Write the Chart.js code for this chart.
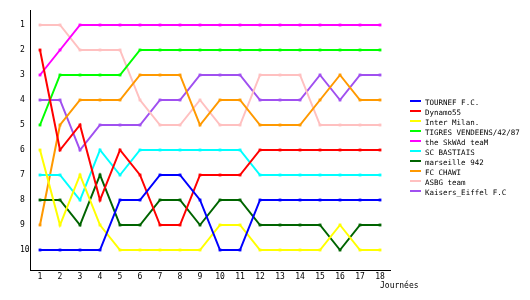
<!DOCTYPE html>
<html>
<head>
<meta charset="utf-8">
<script src="https://cdn.jsdelivr.net/npm/chart.js@4/dist/chart.umd.min.js"></script>
<style>
  body { margin: 0; background: #fff; }
  #wrap { width: 530px; height: 300px; }
</style>
</head>
<body>
<div id="wrap"><canvas id="myChart" width="530" height="300"></canvas></div>
<script>
    // journées 1..18
    var journees = [1, 2, 3, 4, 5, 6, 7, 8, 9, 10, 11, 12, 13, 14, 15, 16, 17, 18];
    var rangs = [1, 2, 3, 4, 5, 6, 7, 8, 9, 10];

    var equipes = ['TOURNEF F.C.', 'Dynamo55', 'Inter Milan.', 'TIGRES VENDEENS/42/87', 'the SkWAd teaM',
                   'SC BASTIAIS', 'marseille 942', 'FC CHAWI', 'ASBG team', 'Kaisers_Eiffel F.C'];
    var couleurs = ['#0000ff', '#ff0000', '#ffff00', '#00ff00', '#ff00ff',
                    '#00ffff', '#006400', '#ff9900', '#ffc0c0', '#a050f0'];

    var tournef   = [10, 10, 10, 10, 8, 8, 7, 7, 8, 10, 10, 8, 8, 8, 8, 8, 8, 8];
    var dynamo    = [2, 6, 5, 8, 6, 7, 9, 9, 7, 7, 7, 6, 6, 6, 6, 6, 6, 6];
    var inter     = [6, 9, 7, 9, 10, 10, 10, 10, 10, 9, 9, 10, 10, 10, 10, 9, 10, 10];
    var tigres    = [5, 3, 3, 3, 3, 2, 2, 2, 2, 2, 2, 2, 2, 2, 2, 2, 2, 2];
    var skwad     = [3, 2, 1, 1, 1, 1, 1, 1, 1, 1, 1, 1, 1, 1, 1, 1, 1, 1];
    var bastiais  = [7, 7, 8, 6, 7, 6, 6, 6, 6, 6, 6, 7, 7, 7, 7, 7, 7, 7];
    var marseille = [8, 8, 9, 7, 9, 9, 8, 8, 9, 8, 8, 9, 9, 9, 9, 10, 9, 9];
    var chawi     = [9, 5, 4, 4, 4, 3, 3, 3, 5, 4, 4, 5, 5, 5, 4, 3, 4, 4];
    var asbg      = [1, 1, 2, 2, 2, 4, 5, 5, 4, 5, 5, 3, 3, 3, 5, 5, 5, 5];
    var kaisers   = [4, 4, 6, 5, 5, 5, 4, 4, 3, 3, 3, 4, 4, 4, 3, 4, 3, 3];

    var series = [tournef, dynamo, inter, tigres, skwad, bastiais, marseille, chawi, asbg, kaisers];
    var police = '"DejaVu Sans Mono", monospace';

    var datasets = series.map(function (s, i) {
        return {
            label: equipes[i],
            data: s.map(function (v, j) { return { x: journees[j], y: v }; }),
            borderColor: couleurs[i],
            backgroundColor: couleurs[i],
            borderWidth: 2,
            pointStyle: 'rect',
            pointRadius: 2,
            pointBorderWidth: 0,
            tension: 0
        };
    });

    // légende et titre d'axe dessinés à la main
    var legendePlugin = {
        id: 'legende',
        afterDraw: function (chart) {
            var c = chart.ctx;
            c.save();
            c.font = '7.5px ' + police;
            c.textBaseline = 'middle';
            c.textAlign = 'left';
            equipes.forEach(function (nom, i) {
                var y = 103 + i * 10;
                c.fillStyle = couleurs[i];
                c.fillRect(410, y - 3, 11, 2);
                c.fillStyle = '#000';
                c.fillText(nom, 425, y);
            });
            c.font = '8px ' + police;
            c.textBaseline = 'alphabetic';
            c.fillText('Journées', 380, 288);
            c.restore();
        }
    };

    var ctx = document.getElementById('myChart').getContext('2d');

    var myChart = new Chart(ctx, {
        type: 'line',
        data: { datasets: datasets },
        plugins: [legendePlugin],
        options: {
            responsive: false,
            animation: false,
            layout: { padding: { left: 20, right: 140, top: 10, bottom: 0 } },
            plugins: {
                legend: { display: false },
                tooltip: { enabled: false }
            },
            scales: {
                x: {
                    type: 'linear',
                    min: 0.5,
                    max: 18.5,
                    afterBuildTicks: function (axis) {
                        axis.ticks = journees.map(function (v) { return { value: v }; });
                    },
                    afterFit: function (axis) { axis.height = 30; },
                    grid: { display: false, drawTicks: false },
                    border: { display: true, color: '#000', width: 1 },
                    ticks: {
                        color: '#000',
                        padding: 2,
                        maxRotation: 0,
                        autoSkip: false,
                        font: { family: police, size: 8 }
                    }
                },
                y: {
                    reverse: true,
                    min: 0.4,
                    max: 10.8,
                    afterBuildTicks: function (axis) {
                        axis.ticks = rangs.map(function (v) { return { value: v }; });
                    },
                    afterFit: function (axis) { axis.width = 10; },
                    grid: { display: false, drawTicks: false },
                    border: { display: true, color: '#000', width: 1 },
                    ticks: {
                        color: '#000',
                        crossAlign: 'far',
                        padding: 0,
                        font: { family: police, size: 8 }
                    }
                }
            }
        }
    });
</script>
</body>
</html>
